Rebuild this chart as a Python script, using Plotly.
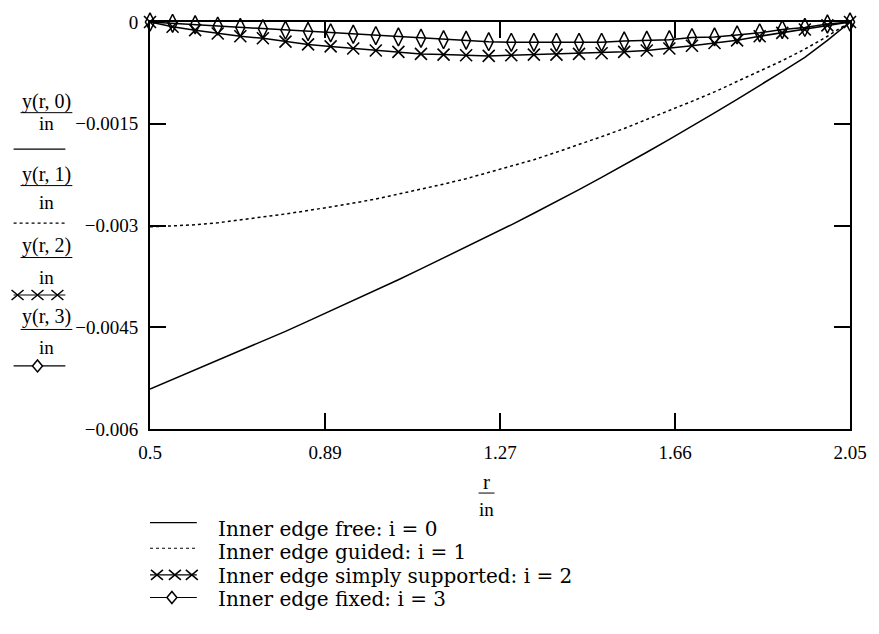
import plotly.graph_objects as go

# ---------------- data ----------------
r_vals = [0.50, 0.55, 0.60, 0.65, 0.70, 0.75, 0.80, 0.85, 0.90, 0.95,
          1.00, 1.05, 1.10, 1.15, 1.20, 1.25, 1.30, 1.35, 1.40, 1.45,
          1.50, 1.55, 1.60, 1.65, 1.70, 1.75, 1.80, 1.85, 1.90, 1.95,
          2.00, 2.05]

y_free = [-0.00541, -0.00527, -0.00513, -0.00499, -0.00485, -0.00471, -0.00456, -0.00441,
          -0.00426, -0.00411, -0.00396, -0.00380, -0.00364, -0.00348, -0.00332, -0.00316,
          -0.00299, -0.00282, -0.00265, -0.00247, -0.00229, -0.00211, -0.00192, -0.00173,
          -0.00154, -0.00134, -0.00114, -0.00094, -0.00073, -0.00052, -0.00027, 0.0]

y_guided = [-0.00302, -0.00301, -0.00299, -0.00296, -0.00292, -0.00288, -0.00283, -0.00278,
            -0.00273, -0.00267, -0.00261, -0.00254, -0.00247, -0.00239, -0.00231, -0.00222,
            -0.00213, -0.00203, -0.00192, -0.00181, -0.00169, -0.00157, -0.00144, -0.00131,
            -0.00117, -0.00103, -0.00088, -0.00073, -0.00057, -0.00040, -0.00021, 0.0]

y_simple = [0.0, -0.00007, -0.00012, -0.00017, -0.00021, -0.00024, -0.00029, -0.00033,
            -0.00036, -0.00039, -0.00042, -0.00044, -0.00047, -0.00048, -0.00049, -0.00050,
            -0.00049, -0.00048, -0.00048, -0.00047, -0.00046, -0.00044, -0.00042, -0.00039,
            -0.00035, -0.00031, -0.00027, -0.00021, -0.00016, -0.00011, -0.00005, 0.0]

y_fixed = [0.0, -0.00002, -0.00004, -0.00006, -0.00008, -0.00010, -0.00012, -0.00014,
           -0.00016, -0.00018, -0.00020, -0.00022, -0.00024, -0.00026, -0.00027, -0.00029,
           -0.00030, -0.00030, -0.00030, -0.00030, -0.00030, -0.00028, -0.00027, -0.00026,
           -0.00023, -0.00022, -0.00019, -0.00016, -0.00011, -0.00008, -0.00003, 0.0]

x_tickvals = [0.5, 0.8875, 1.275, 1.6625, 2.05]
x_ticktext = ["0.5", "0.89", "1.27", "1.66", "2.05"]
y_tickvals = [0.0, -0.0015, -0.003, -0.0045, -0.006]
y_ticktext = ["0", "\u22120.0015", "\u22120.003", "\u22120.0045", "\u22120.006"]

y_labels = ["y(r, 0)", "y(r, 1)", "y(r, 2)", "y(r, 3)"]
legend_texts = ["Inner edge free: i = 0", "Inner edge guided: i = 1",
                "Inner edge simply supported: i = 2", "Inner edge fixed: i = 3"]

# ---------------- layout geometry ----------------
W, H = 879, 634
L, R, T, B = 150, 26, 16, 205
PW, PH = W - L - R, H - T - B
FONT = "Liberation Serif"
LEG_FONT = "DejaVu Serif"


def px(x):
    return (x - L) / PW


def py(y):
    return (H - B - y) / PH


fig = go.Figure()
fig.add_trace(go.Scatter(x=r_vals, y=y_free, mode="lines",
                         line=dict(color="black", width=1.5), showlegend=False))
fig.add_trace(go.Scatter(x=r_vals, y=y_guided, mode="lines",
                         line=dict(color="black", width=1.5, dash="dot"), showlegend=False))
fig.add_trace(go.Scatter(x=r_vals, y=y_simple, mode="lines+markers",
                         line=dict(color="black", width=1.5),
                         marker=dict(symbol="x-thin-open", size=12, color="black",
                                     line=dict(color="black", width=1.6)),
                         cliponaxis=False, showlegend=False))
fig.add_trace(go.Scatter(x=r_vals, y=y_fixed, mode="lines+markers",
                         line=dict(color="black", width=1.5),
                         marker=dict(symbol="diamond-tall-open", size=13, color="black",
                                     line=dict(color="black", width=1.5)),
                         cliponaxis=False, showlegend=False))

shapes = []
annotations = []


def hline(x0, x1, y, dash="solid", width=1.2):
    shapes.append(dict(type="line", xref="paper", yref="paper",
                       x0=px(x0), x1=px(x1), y0=py(y), y1=py(y),
                       line=dict(color="black", width=width, dash=dash)))


def cross(x, y):
    shapes.append(dict(type="path", xref="paper", yref="paper",
                       xsizemode="pixel", ysizemode="pixel",
                       xanchor=px(x), yanchor=py(y),
                       path="M -6 -5 L 6 5 M -6 5 L 6 -5",
                       line=dict(color="black", width=1.5)))


def diamond(x, y):
    shapes.append(dict(type="path", xref="paper", yref="paper",
                       xsizemode="pixel", ysizemode="pixel",
                       xanchor=px(x), yanchor=py(y),
                       path="M 0 -6 L 5 0 L 0 6 L -5 0 Z",
                       fillcolor="white",
                       line=dict(color="black", width=1.5)))


def text(x, y, s, size, anchor="center", family=FONT):
    annotations.append(dict(xref="paper", yref="paper", x=px(x), y=py(y), text=s,
                            showarrow=False, xanchor=anchor, yanchor="middle",
                            borderpad=0,
                            font=dict(family=family, size=size, color="black")))


def sample(kind, x0, x1, y, xs_cross, x_diam):
    if kind == "solid":
        hline(x0, x1, y)
    elif kind == "dot":
        hline(x0, x1, y, dash="dot", width=1.2)
    elif kind == "cross":
        hline(x0, x1, y)
        for xc in xs_cross:
            cross(xc, y)
    else:
        hline(x0, x1, y)
        diamond(x_diam, y)


kinds = ["solid", "dot", "cross", "diamond"]

# stacked y-axis labels with line samples
left_pos = [(97, 108, 119, 145), (171, 182, 199, 220), (243, 255, 275, 293), (315, 328, 346, 365)]
for lab, (ny, by, iy, sy), kind in zip(y_labels, left_pos, kinds):
    text(46, ny, lab, 20)
    hline(20, 72, by, width=1)
    text(46, iy, "in", 19)
    sample(kind, 13, 65, sy, [17, 37, 57], 37)

# x-axis label r / in
text(488, 483, "r", 21)
hline(480, 496, 494, width=1)
text(488, 511, "in", 19)

# bottom legend
leg_pos = [(530, 524), (554, 550), (578, 577), (602, 600)]
for s, (ty, sy), kind in zip(legend_texts, leg_pos, kinds):
    sample(kind, 150, 197, sy, [157, 175, 192], 172)
    text(217, ty, s, 20, anchor="left", family=LEG_FONT)

axis_common = dict(showline=True, linecolor="black", linewidth=2, mirror="ticks",
                   ticks="inside", ticklen=16, tickwidth=1.5, tickcolor="black",
                   showgrid=False, zeroline=False,
                   tickfont=dict(family=FONT, size=19, color="black"))

fig.update_layout(
    width=W, height=H,
    margin=dict(l=L, r=R, t=T, b=B),
    paper_bgcolor="white", plot_bgcolor="white",
    xaxis=dict(range=[0.5, 2.05], tickmode="array", tickvals=x_tickvals,
               ticktext=x_ticktext, ticklabelstandoff=5, **axis_common),
    yaxis=dict(range=[-0.006, 0.0], tickmode="array", tickvals=y_tickvals,
               ticktext=y_ticktext, ticklabelstandoff=6, **axis_common),
    shapes=shapes, annotations=annotations, showlegend=False,
)

fig.write_html("out.html")
